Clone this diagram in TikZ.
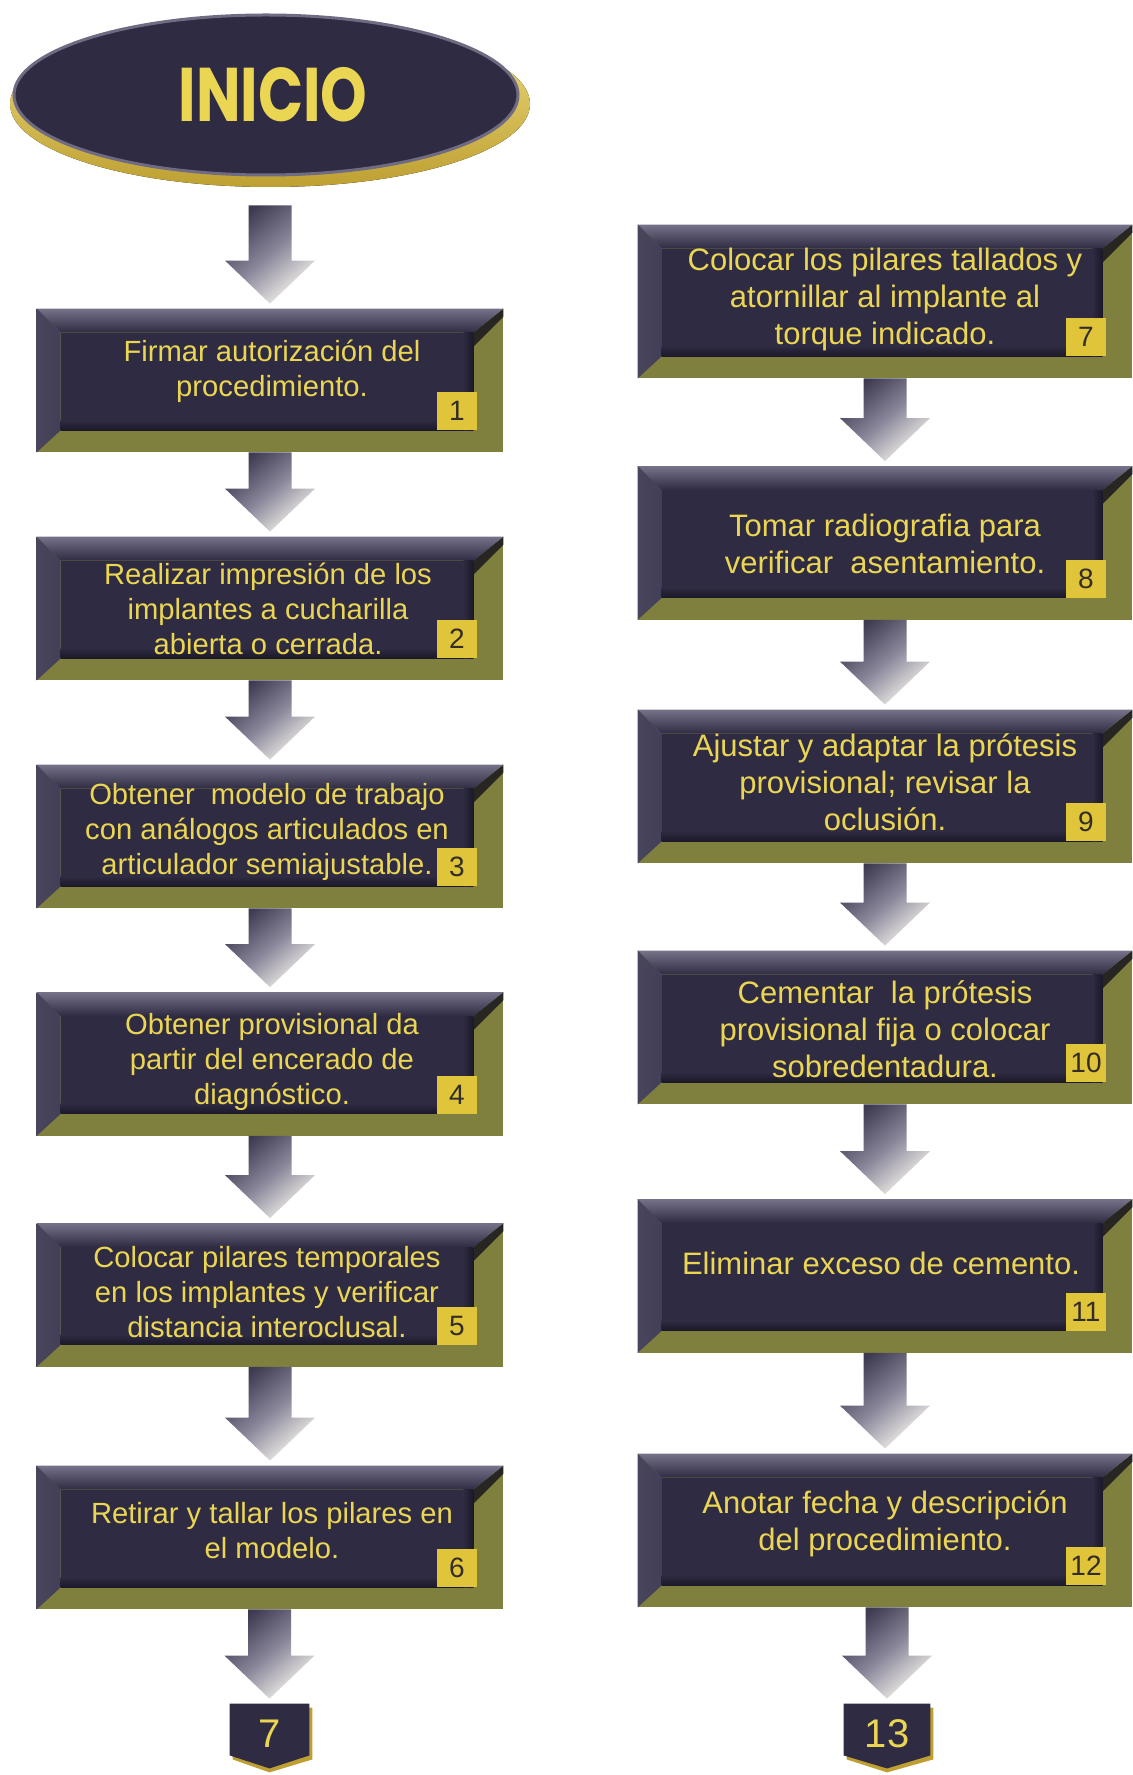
\documentclass[tikz,border=0pt]{standalone}
\usepackage{fontspec}
\setmainfont{Liberation Sans}
\newfontfamily\inifont{Poppins}
\usepackage{graphicx}
\usetikzlibrary{calc,shapes.geometric}
\definecolor{navy}{RGB}{46,43,66}
\definecolor{facedk}{RGB}{26,24,40}
\definecolor{bevtop}{RGB}{118,114,138}
\definecolor{bevleft}{RGB}{72,69,92}
\definecolor{bevmid}{RGB}{66,63,88}
\definecolor{olivec}{RGB}{128,128,62}
\definecolor{olivedk}{RGB}{40,38,34}
\definecolor{txtyel}{RGB}{235,214,84}
\definecolor{badgef}{RGB}{224,196,58}
\definecolor{numcol}{RGB}{50,45,40}
\definecolor{arrA}{RGB}{60,57,80}
\definecolor{arrB}{RGB}{138,135,155}
\definecolor{arrC}{RGB}{246,244,236}
\definecolor{goldA}{RGB}{240,222,130}
\definecolor{goldB}{RGB}{190,160,50}
\definecolor{rimc}{RGB}{110,107,130}

\newcommand\bevelbox[1]{%
  \coordinate (#1-A) at (#1.north west);
  \coordinate (#1-B) at (#1.north east);
  \coordinate (#1-C) at (#1.south east);
  \coordinate (#1-D) at (#1.south west);
  \coordinate (#1-a) at ($(#1.north west)+(24,24)$);
  \coordinate (#1-b) at ($(#1.north east)+(-30,24)$);
  \coordinate (#1-c) at ($(#1.south east)+(-30,-22)$);
  \coordinate (#1-d) at ($(#1.south west)+(24,-22)$);
  \fill[olivec] (#1-A) rectangle (#1-C);
  \fill[olivedk] (#1-b) -- (#1-B) -- ($(#1-B)+(0,8)$) -- ($(#1-b)+(0,14)$) -- cycle;
  \shade[top color=bevtop, bottom color=navy] (#1-A) -- (#1-B) -- (#1-b) -- (#1-a) -- cycle;
  \shade[left color=bevleft, right color=bevmid] (#1-A) -- (#1-a) -- (#1-d) -- (#1-D) -- cycle;
  \fill[navy] (#1-a) rectangle (#1-c);
  \shade[top color=navy, bottom color=facedk] ($(#1-d)+(0,-10)$) rectangle (#1-c);
  \shade[left color=navy, right color=facedk] ($(#1-b)+(-10,0)$) rectangle (#1-c);
}

% #1 = extra start offset, #2 = from node, #3 = to node
\newcommand\flowarrow[3][0pt]{%
  \path[top color=arrA, bottom color=arrC, middle color=arrB, shading angle=40]
    let \p1=(#2.south), \p2=(#3.north) in
    (\x2-10.75pt,\y1-#1) -- (\x2+10.75pt,\y1-#1) -- (\x2+10.75pt,\y2+24pt)
    -- (\x2+22.5pt,\y2+24pt) -- (\x2,\y2+2.5pt) -- (\x2-22.5pt,\y2+24pt)
    -- (\x2-10.75pt,\y2+24pt) -- cycle;
}

\newcommand\finalbadge[2]{%
  \fill[goldB] ($(#1.north west)+(3,4)$) -- ($(#1.north east)+(3,4)$) -- ($(#1.south east)+(3,4)$)
     -- ($(#1.south)+(0,17)$) -- ($(#1.south west)+(3,4)$) -- cycle;
  \fill[navy] (#1.north west) -- (#1.north east) -- (#1.south east)
     -- ($(#1.south)+(0,13)$) -- (#1.south west) -- cycle;
  \node[text=txtyel, font=\fontsize{20}{20}\selectfont] at ($(#1.center)+(0,4)$) {#2};
}

\begin{document}
\begin{tikzpicture}[x=0.5pt,y=-0.5pt,
  lbox/.style={rectangle, inner sep=0pt, minimum width=233pt, minimum height=71.5pt},
  rbox/.style={rectangle, inner sep=0pt, minimum width=247pt, minimum height=76.5pt},
  ltext/.style={text=txtyel, align=center, font=\fontsize{14.6}{17.5}\selectfont},
  rtext/.style={text=txtyel, align=center, font=\fontsize{15.5}{18.5}\selectfont},
  numbadge/.style={rectangle, fill=badgef, text=numcol, inner sep=0pt,
     minimum width=20pt, minimum height=19pt, anchor=south east,
     font=\fontsize{14}{14}\selectfont},
  endshape/.style={rectangle, inner sep=0pt, minimum height=25.5pt}]

\useasboundingbox (0,0) rectangle (1132,1775);
\fill[white] (0,0) rectangle (1132,1775);

% start ellipse
\fill[top color=goldA, bottom color=goldB] (270,104) ellipse [x radius=130pt, y radius=41.5pt];
\node[ellipse, fill=navy, draw=rimc, line width=1.5pt, inner sep=0pt,
      minimum width=252pt, minimum height=80pt] (inicio) at (266,95) {};
\node[text=txtyel, font=\inifont\bfseries\fontsize{38}{38}\selectfont] (initxt) at (273,95)
      {\scalebox{0.78}[1]{INICIO}};

% left column boxes
\node[lbox] (b1) at (270,380.5) {};
\node[lbox] (b2) at (270,608.5) {};
\node[lbox] (b3) at (270,836.5) {};
\node[lbox] (b4) at (270,1064) {};
\node[lbox] (b5) at (270,1295) {};
\node[lbox] (b6) at (270,1537.5) {};
% right column boxes
\node[rbox] (b7) at (885,301.5) {};
\node[rbox] (b8) at (885,543) {};
\node[rbox] (b9) at (885,786.5) {};
\node[rbox] (b10) at (885,1027.5) {};
\node[rbox] (b11) at (885,1276) {};
\node[rbox] (b12) at (885,1530.5) {};
% end connectors
\node[endshape, minimum width=39.5pt] (end7) at (269.5,1729.5) {};
\node[endshape, minimum width=43pt] (end13) at (887,1729.5) {};

\foreach \b in {b1,b2,b3,b4,b5,b6,b7,b8,b9,b10,b11,b12} {\bevelbox{\b}}

% texts
\node[ltext] (t1) at ($(b1.center)+(2,-9.5)$) {Firmar autorización del\\procedimiento.};
\node[ltext] (t2) at ($(b2.center)+(-2,0)$) {Realizar impresión de los\\implantes a cucharilla\\abierta o cerrada.};
\node[ltext] (t3) at ($(b3.center)+(-3,-5)$) {Obtener~ modelo de trabajo\\con análogos articulados en\\articulador semiajustable.};
\node[ltext] (t4) at ($(b4.center)+(2,-2)$) {Obtener provisional da\\partir del encerado de\\diagnóstico.};
\node[ltext] (t5) at ($(b5.center)+(-3,-3)$) {Colocar pilares temporales\\en los implantes y verificar\\distancia interoclusal.};
\node[ltext] (t6) at ($(b6.center)+(2,-7)$) {Retirar y tallar los pilares en\\el modelo.};
\node[rtext] (t7) at ($(b7.center)+(0,-2.5)$) {Colocar los pilares tallados y\\atornillar al implante al\\torque indicado.};
\node[rtext] (t8) at ($(b8.center)+(0,1)$) {Tomar radiografia para\\verificar~ asentamiento.};
\node[rtext] (t9) at ($(b9.center)+(0,-4.5)$) {Ajustar y adaptar la prótesis\\provisional; revisar la\\oclusión.};
\node[rtext] (t10) at ($(b10.center)+(0,1.5)$) {Cementar~ la prótesis\\provisional fija o colocar\\sobredentadura.};
\node[rtext] (t11) at ($(b11.center)+(-4,-13)$) {Eliminar exceso de cemento.};
\node[rtext] (t12) at ($(b12.center)+(0,-6.5)$) {Anotar fecha y descripción\\del procedimiento.};

% number badges
\foreach \b/\n in {b1/1,b2/2,b3/3,b4/4,b5/5,b6/6,b7/7,b8/8,b9/9,b10/10,b11/11,b12/12}
  {\node[numbadge] (n\n) at ($(\b.south east)+(-26,-22)$) {\n};}

% arrows
\flowarrow[14.5pt]{inicio}{b1}
\flowarrow{b1}{b2}
\flowarrow{b2}{b3}
\flowarrow{b3}{b4}
\flowarrow{b4}{b5}
\flowarrow{b5}{b6}
\flowarrow{b6}{end7}
\flowarrow{b7}{b8}
\flowarrow{b8}{b9}
\flowarrow{b9}{b10}
\flowarrow{b10}{b11}
\flowarrow{b11}{b12}
\flowarrow{b12}{end13}

\finalbadge{end7}{7}
\finalbadge{end13}{13}
\end{tikzpicture}
\end{document}
